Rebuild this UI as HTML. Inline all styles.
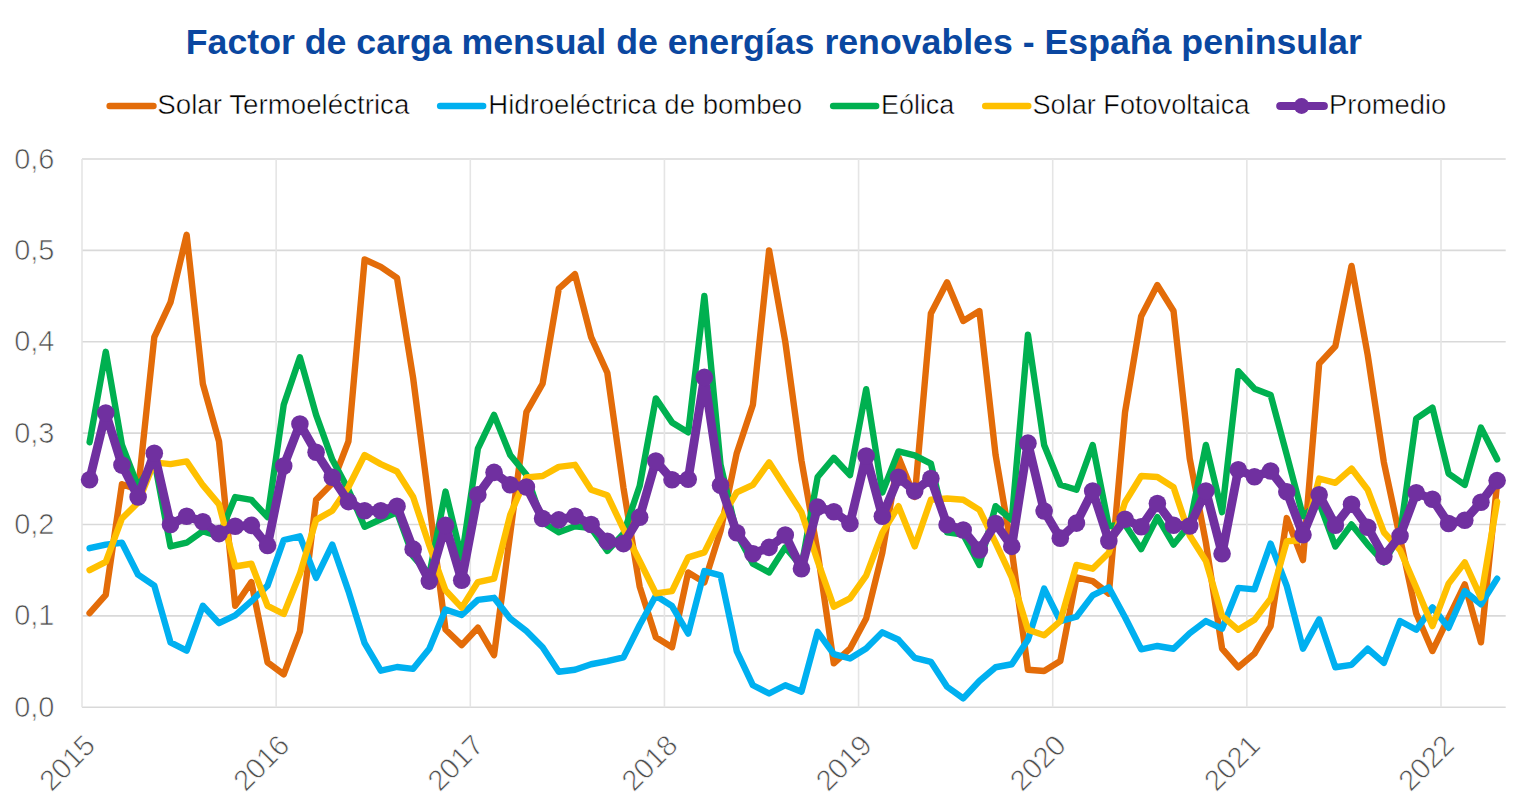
<!DOCTYPE html>
<html><head><meta charset="utf-8"><style>
html,body{margin:0;padding:0;background:#fff;width:1536px;height:801px;overflow:hidden}
svg{display:block;font-family:"Liberation Sans",sans-serif}
</style></head><body>
<svg width="1536" height="801" viewBox="0 0 1536 801">
<rect width="1536" height="801" fill="#fff"/>
<line x1="82.00" y1="707.20" x2="1505.71" y2="707.20" stroke="#d9d9d9" stroke-width="1.6"/>
<line x1="82.00" y1="615.83" x2="1505.71" y2="615.83" stroke="#d9d9d9" stroke-width="1.6"/>
<line x1="82.00" y1="524.47" x2="1505.71" y2="524.47" stroke="#d9d9d9" stroke-width="1.6"/>
<line x1="82.00" y1="433.10" x2="1505.71" y2="433.10" stroke="#d9d9d9" stroke-width="1.6"/>
<line x1="82.00" y1="341.73" x2="1505.71" y2="341.73" stroke="#d9d9d9" stroke-width="1.6"/>
<line x1="82.00" y1="250.37" x2="1505.71" y2="250.37" stroke="#d9d9d9" stroke-width="1.6"/>
<line x1="82.00" y1="159.00" x2="1505.71" y2="159.00" stroke="#d9d9d9" stroke-width="1.6"/>
<line x1="82.00" y1="159.00" x2="82.00" y2="707.20" stroke="#e5e5e5" stroke-width="1.6"/>
<line x1="276.14" y1="159.00" x2="276.14" y2="707.20" stroke="#e5e5e5" stroke-width="1.6"/>
<line x1="470.29" y1="159.00" x2="470.29" y2="707.20" stroke="#e5e5e5" stroke-width="1.6"/>
<line x1="664.43" y1="159.00" x2="664.43" y2="707.20" stroke="#e5e5e5" stroke-width="1.6"/>
<line x1="858.57" y1="159.00" x2="858.57" y2="707.20" stroke="#e5e5e5" stroke-width="1.6"/>
<line x1="1052.71" y1="159.00" x2="1052.71" y2="707.20" stroke="#e5e5e5" stroke-width="1.6"/>
<line x1="1246.86" y1="159.00" x2="1246.86" y2="707.20" stroke="#e5e5e5" stroke-width="1.6"/>
<line x1="1441.00" y1="159.00" x2="1441.00" y2="707.20" stroke="#e5e5e5" stroke-width="1.6"/>
<text x="54.5" y="716.80" text-anchor="end" font-size="29" fill="#4f4f4f" stroke="#fff" stroke-width="0.7">0,0</text>
<text x="54.5" y="625.43" text-anchor="end" font-size="29" fill="#4f4f4f" stroke="#fff" stroke-width="0.7">0,1</text>
<text x="54.5" y="534.07" text-anchor="end" font-size="29" fill="#4f4f4f" stroke="#fff" stroke-width="0.7">0,2</text>
<text x="54.5" y="442.70" text-anchor="end" font-size="29" fill="#4f4f4f" stroke="#fff" stroke-width="0.7">0,3</text>
<text x="54.5" y="351.33" text-anchor="end" font-size="29" fill="#4f4f4f" stroke="#fff" stroke-width="0.7">0,4</text>
<text x="54.5" y="259.97" text-anchor="end" font-size="29" fill="#4f4f4f" stroke="#fff" stroke-width="0.7">0,5</text>
<text x="54.5" y="168.60" text-anchor="end" font-size="29" fill="#4f4f4f" stroke="#fff" stroke-width="0.7">0,6</text>
<text transform="translate(97.00,747.00) rotate(-45)" text-anchor="end" font-size="29" fill="#4f4f4f" stroke="#fff" stroke-width="0.7">2015</text>
<text transform="translate(291.14,747.00) rotate(-45)" text-anchor="end" font-size="29" fill="#4f4f4f" stroke="#fff" stroke-width="0.7">2016</text>
<text transform="translate(485.29,747.00) rotate(-45)" text-anchor="end" font-size="29" fill="#4f4f4f" stroke="#fff" stroke-width="0.7">2017</text>
<text transform="translate(679.43,747.00) rotate(-45)" text-anchor="end" font-size="29" fill="#4f4f4f" stroke="#fff" stroke-width="0.7">2018</text>
<text transform="translate(873.57,747.00) rotate(-45)" text-anchor="end" font-size="29" fill="#4f4f4f" stroke="#fff" stroke-width="0.7">2019</text>
<text transform="translate(1067.71,747.00) rotate(-45)" text-anchor="end" font-size="29" fill="#4f4f4f" stroke="#fff" stroke-width="0.7">2020</text>
<text transform="translate(1261.86,747.00) rotate(-45)" text-anchor="end" font-size="29" fill="#4f4f4f" stroke="#fff" stroke-width="0.7">2021</text>
<text transform="translate(1456.00,747.00) rotate(-45)" text-anchor="end" font-size="29" fill="#4f4f4f" stroke="#fff" stroke-width="0.7">2022</text>
<polyline fill="none" stroke="#e36c09" stroke-width="6.4" stroke-linejoin="round" stroke-linecap="round" points="89.59,613.09 105.77,594.82 121.95,484.27 138.12,489.75 154.30,337.16 170.48,302.45 186.66,234.83 202.84,383.76 219.02,441.32 235.20,605.78 251.37,582.03 267.55,662.43 283.73,674.31 299.91,631.37 316.09,499.80 332.27,483.35 348.45,441.32 364.62,259.50 380.80,266.81 396.98,277.78 413.16,378.28 429.34,504.37 445.52,629.54 461.70,645.07 477.87,627.71 494.05,655.12 510.23,533.60 526.41,412.09 542.59,383.76 558.77,288.74 574.95,274.12 591.12,337.16 607.30,372.80 623.48,487.92 639.66,586.60 655.84,637.30 672.02,647.26 688.20,572.43 704.37,582.39 720.55,530.86 736.73,453.20 752.91,404.78 769.09,250.37 785.27,341.73 801.45,460.51 817.62,551.88 833.80,663.34 849.98,648.73 866.16,618.57 882.34,552.79 898.52,457.31 914.70,497.06 930.87,313.41 947.05,282.34 963.23,320.99 979.41,311.03 995.59,455.03 1011.77,550.05 1027.95,669.74 1044.12,671.02 1060.30,661.06 1076.48,577.46 1092.66,581.11 1108.84,593.63 1125.02,412.36 1141.20,316.15 1157.38,285.09 1173.55,311.03 1189.73,458.68 1205.91,542.74 1222.09,648.54 1238.27,667.27 1254.45,653.57 1270.62,626.07 1286.80,518.07 1302.98,560.10 1319.16,363.66 1335.34,346.30 1351.52,265.90 1367.70,354.98 1383.87,462.34 1400.05,538.17 1416.23,613.55 1432.41,651.01 1448.59,617.66 1464.77,584.40 1480.95,642.33 1497.12,483.35"/>
<polyline fill="none" stroke="#00b0f0" stroke-width="6.4" stroke-linejoin="round" stroke-linecap="round" points="89.59,548.22 105.77,544.57 121.95,542.74 138.12,574.72 154.30,585.68 170.48,642.33 186.66,650.55 202.84,605.78 219.02,623.14 235.20,615.38 251.37,601.21 267.55,585.68 283.73,540.00 299.91,536.34 316.09,577.92 332.27,544.57 348.45,591.16 364.62,643.24 380.80,670.65 396.98,667.00 413.16,668.83 429.34,648.73 445.52,609.44 461.70,614.92 477.87,599.84 494.05,597.83 510.23,618.57 526.41,631.09 542.59,647.26 558.77,671.75 574.95,669.74 591.12,664.26 607.30,661.06 623.48,657.31 639.66,624.97 655.84,595.73 672.02,606.06 688.20,633.56 704.37,571.06 720.55,575.36 736.73,651.01 752.91,685.27 769.09,693.50 785.27,685.27 801.45,691.67 817.62,631.82 833.80,654.21 849.98,658.50 866.16,648.54 882.34,632.28 898.52,639.77 914.70,657.86 930.87,661.79 947.05,686.73 963.23,698.43 979.41,680.98 995.59,667.27 1011.77,664.26 1027.95,639.77 1044.12,588.61 1060.30,621.04 1076.48,616.75 1092.66,595.37 1108.84,587.42 1125.02,617.30 1141.20,649.27 1157.38,645.98 1173.55,648.73 1189.73,633.19 1205.91,621.04 1222.09,628.62 1238.27,587.88 1254.45,589.34 1270.62,543.65 1286.80,586.14 1302.98,648.73 1319.16,619.31 1335.34,667.27 1351.52,664.81 1367.70,648.73 1383.87,662.80 1400.05,621.04 1416.23,629.81 1432.41,607.34 1448.59,627.80 1464.77,591.16 1480.95,604.32 1497.12,578.65"/>
<polyline fill="none" stroke="#00b050" stroke-width="6.4" stroke-linejoin="round" stroke-linecap="round" points="89.59,442.24 105.77,351.78 121.95,444.98 138.12,486.55 154.30,460.51 170.48,546.39 186.66,542.74 202.84,531.23 219.02,536.34 235.20,497.06 251.37,499.80 267.55,517.16 283.73,404.78 299.91,357.27 316.09,414.83 332.27,459.60 348.45,489.75 364.62,526.75 380.80,519.26 396.98,512.22 413.16,556.45 429.34,574.72 445.52,491.57 461.70,558.27 477.87,448.63 494.05,414.83 510.23,455.03 526.41,474.76 542.59,522.18 558.77,532.23 574.95,526.29 591.12,528.12 607.30,550.96 623.48,533.60 639.66,486.09 655.84,398.38 672.02,422.41 688.20,432.37 704.37,296.05 720.55,464.80 736.73,533.60 752.91,563.75 769.09,572.43 785.27,547.31 801.45,566.50 817.62,476.96 833.80,457.77 849.98,475.13 866.16,389.24 882.34,492.49 898.52,451.37 914.70,455.30 930.87,463.53 947.05,532.23 963.23,534.52 979.41,564.94 995.59,506.19 1011.77,519.90 1027.95,334.79 1044.12,444.98 1060.30,484.81 1076.48,489.75 1092.66,444.98 1108.84,526.29 1125.02,524.47 1141.20,549.14 1157.38,517.16 1173.55,544.57 1189.73,524.47 1205.91,444.98 1222.09,512.22 1238.27,371.15 1254.45,388.70 1270.62,394.91 1286.80,455.03 1302.98,516.24 1319.16,502.54 1335.34,546.39 1351.52,524.47 1367.70,544.57 1383.87,562.38 1400.05,534.52 1416.23,418.66 1432.41,407.52 1448.59,473.58 1464.77,484.81 1480.95,427.62 1497.12,459.32"/>
<polyline fill="none" stroke="#ffc000" stroke-width="6.4" stroke-linejoin="round" stroke-linecap="round" points="89.59,570.15 105.77,561.93 121.95,518.44 138.12,502.54 154.30,462.34 170.48,464.16 186.66,461.42 202.84,485.18 219.02,504.37 235.20,566.50 251.37,563.75 267.55,605.78 283.73,614.01 299.91,573.80 316.09,519.90 332.27,510.76 348.45,487.01 364.62,455.03 380.80,464.16 396.98,471.47 413.16,497.06 429.34,545.48 445.52,590.25 461.70,607.61 477.87,582.03 494.05,578.65 510.23,514.69 526.41,477.32 542.59,476.04 558.77,466.91 574.95,464.80 591.12,489.75 607.30,495.23 623.48,529.04 639.66,561.01 655.84,593.45 672.02,591.16 688.20,557.36 704.37,552.42 720.55,519.90 736.73,492.31 752.91,484.81 769.09,462.34 785.27,487.28 801.45,512.22 817.62,561.01 833.80,606.70 849.98,598.47 866.16,575.63 882.34,532.69 898.52,506.19 914.70,546.39 930.87,499.80 947.05,498.52 963.23,499.80 979.41,509.85 995.59,542.74 1011.77,577.46 1027.95,629.81 1044.12,635.29 1060.30,621.04 1076.48,564.94 1092.66,568.69 1108.84,552.79 1125.02,502.26 1141.20,476.04 1157.38,476.96 1173.55,487.28 1189.73,535.43 1205.91,561.01 1222.09,615.83 1238.27,629.81 1254.45,619.85 1270.62,598.57 1286.80,541.19 1302.98,540.00 1319.16,478.51 1335.34,482.80 1351.52,468.55 1367.70,489.75 1383.87,532.23 1400.05,550.05 1416.23,587.51 1432.41,626.07 1448.59,583.67 1464.77,562.38 1480.95,597.56 1497.12,501.72"/>
<polyline fill="none" stroke="#7030a0" stroke-width="8.8" stroke-linejoin="round" stroke-linecap="round" points="89.59,479.70 105.77,413.00 121.95,465.08 138.12,497.06 154.30,453.20 170.48,524.47 186.66,516.24 202.84,521.73 219.02,533.60 235.20,526.29 251.37,525.38 267.55,545.48 283.73,465.99 299.91,423.96 316.09,452.29 332.27,477.32 348.45,501.62 364.62,510.76 380.80,510.76 396.98,506.19 413.16,549.14 429.34,581.11 445.52,525.38 461.70,580.20 477.87,494.77 494.05,472.39 510.23,484.81 526.41,487.01 542.59,518.44 558.77,519.90 574.95,516.24 591.12,524.47 607.30,541.19 623.48,543.65 639.66,517.16 655.84,461.06 672.02,479.70 688.20,479.24 704.37,377.37 720.55,485.18 736.73,532.69 752.91,553.70 769.09,547.40 785.27,534.97 801.45,568.69 817.62,507.11 833.80,511.68 849.98,523.55 866.16,455.94 882.34,516.24 898.52,477.32 914.70,491.03 930.87,478.51 947.05,524.74 963.23,529.95 979.41,550.05 995.59,523.55 1011.77,546.39 1027.95,443.15 1044.12,510.94 1060.30,538.17 1076.48,523.10 1092.66,491.03 1108.84,540.91 1125.02,519.26 1141.20,526.75 1157.38,503.45 1173.55,525.20 1189.73,525.93 1205.91,491.03 1222.09,553.70 1238.27,469.83 1254.45,476.77 1270.62,471.02 1286.80,491.76 1302.98,534.70 1319.16,494.77 1335.34,525.20 1351.52,504.27 1367.70,527.21 1383.87,556.45 1400.05,535.98 1416.23,492.76 1432.41,499.25 1448.59,523.46 1464.77,520.26 1480.95,502.26 1497.12,480.61"/>
<circle cx="89.59" cy="479.70" r="8.8" fill="#7030a0"/>
<circle cx="105.77" cy="413.00" r="8.8" fill="#7030a0"/>
<circle cx="121.95" cy="465.08" r="8.8" fill="#7030a0"/>
<circle cx="138.12" cy="497.06" r="8.8" fill="#7030a0"/>
<circle cx="154.30" cy="453.20" r="8.8" fill="#7030a0"/>
<circle cx="170.48" cy="524.47" r="8.8" fill="#7030a0"/>
<circle cx="186.66" cy="516.24" r="8.8" fill="#7030a0"/>
<circle cx="202.84" cy="521.73" r="8.8" fill="#7030a0"/>
<circle cx="219.02" cy="533.60" r="8.8" fill="#7030a0"/>
<circle cx="235.20" cy="526.29" r="8.8" fill="#7030a0"/>
<circle cx="251.37" cy="525.38" r="8.8" fill="#7030a0"/>
<circle cx="267.55" cy="545.48" r="8.8" fill="#7030a0"/>
<circle cx="283.73" cy="465.99" r="8.8" fill="#7030a0"/>
<circle cx="299.91" cy="423.96" r="8.8" fill="#7030a0"/>
<circle cx="316.09" cy="452.29" r="8.8" fill="#7030a0"/>
<circle cx="332.27" cy="477.32" r="8.8" fill="#7030a0"/>
<circle cx="348.45" cy="501.62" r="8.8" fill="#7030a0"/>
<circle cx="364.62" cy="510.76" r="8.8" fill="#7030a0"/>
<circle cx="380.80" cy="510.76" r="8.8" fill="#7030a0"/>
<circle cx="396.98" cy="506.19" r="8.8" fill="#7030a0"/>
<circle cx="413.16" cy="549.14" r="8.8" fill="#7030a0"/>
<circle cx="429.34" cy="581.11" r="8.8" fill="#7030a0"/>
<circle cx="445.52" cy="525.38" r="8.8" fill="#7030a0"/>
<circle cx="461.70" cy="580.20" r="8.8" fill="#7030a0"/>
<circle cx="477.87" cy="494.77" r="8.8" fill="#7030a0"/>
<circle cx="494.05" cy="472.39" r="8.8" fill="#7030a0"/>
<circle cx="510.23" cy="484.81" r="8.8" fill="#7030a0"/>
<circle cx="526.41" cy="487.01" r="8.8" fill="#7030a0"/>
<circle cx="542.59" cy="518.44" r="8.8" fill="#7030a0"/>
<circle cx="558.77" cy="519.90" r="8.8" fill="#7030a0"/>
<circle cx="574.95" cy="516.24" r="8.8" fill="#7030a0"/>
<circle cx="591.12" cy="524.47" r="8.8" fill="#7030a0"/>
<circle cx="607.30" cy="541.19" r="8.8" fill="#7030a0"/>
<circle cx="623.48" cy="543.65" r="8.8" fill="#7030a0"/>
<circle cx="639.66" cy="517.16" r="8.8" fill="#7030a0"/>
<circle cx="655.84" cy="461.06" r="8.8" fill="#7030a0"/>
<circle cx="672.02" cy="479.70" r="8.8" fill="#7030a0"/>
<circle cx="688.20" cy="479.24" r="8.8" fill="#7030a0"/>
<circle cx="704.37" cy="377.37" r="8.8" fill="#7030a0"/>
<circle cx="720.55" cy="485.18" r="8.8" fill="#7030a0"/>
<circle cx="736.73" cy="532.69" r="8.8" fill="#7030a0"/>
<circle cx="752.91" cy="553.70" r="8.8" fill="#7030a0"/>
<circle cx="769.09" cy="547.40" r="8.8" fill="#7030a0"/>
<circle cx="785.27" cy="534.97" r="8.8" fill="#7030a0"/>
<circle cx="801.45" cy="568.69" r="8.8" fill="#7030a0"/>
<circle cx="817.62" cy="507.11" r="8.8" fill="#7030a0"/>
<circle cx="833.80" cy="511.68" r="8.8" fill="#7030a0"/>
<circle cx="849.98" cy="523.55" r="8.8" fill="#7030a0"/>
<circle cx="866.16" cy="455.94" r="8.8" fill="#7030a0"/>
<circle cx="882.34" cy="516.24" r="8.8" fill="#7030a0"/>
<circle cx="898.52" cy="477.32" r="8.8" fill="#7030a0"/>
<circle cx="914.70" cy="491.03" r="8.8" fill="#7030a0"/>
<circle cx="930.87" cy="478.51" r="8.8" fill="#7030a0"/>
<circle cx="947.05" cy="524.74" r="8.8" fill="#7030a0"/>
<circle cx="963.23" cy="529.95" r="8.8" fill="#7030a0"/>
<circle cx="979.41" cy="550.05" r="8.8" fill="#7030a0"/>
<circle cx="995.59" cy="523.55" r="8.8" fill="#7030a0"/>
<circle cx="1011.77" cy="546.39" r="8.8" fill="#7030a0"/>
<circle cx="1027.95" cy="443.15" r="8.8" fill="#7030a0"/>
<circle cx="1044.12" cy="510.94" r="8.8" fill="#7030a0"/>
<circle cx="1060.30" cy="538.17" r="8.8" fill="#7030a0"/>
<circle cx="1076.48" cy="523.10" r="8.8" fill="#7030a0"/>
<circle cx="1092.66" cy="491.03" r="8.8" fill="#7030a0"/>
<circle cx="1108.84" cy="540.91" r="8.8" fill="#7030a0"/>
<circle cx="1125.02" cy="519.26" r="8.8" fill="#7030a0"/>
<circle cx="1141.20" cy="526.75" r="8.8" fill="#7030a0"/>
<circle cx="1157.38" cy="503.45" r="8.8" fill="#7030a0"/>
<circle cx="1173.55" cy="525.20" r="8.8" fill="#7030a0"/>
<circle cx="1189.73" cy="525.93" r="8.8" fill="#7030a0"/>
<circle cx="1205.91" cy="491.03" r="8.8" fill="#7030a0"/>
<circle cx="1222.09" cy="553.70" r="8.8" fill="#7030a0"/>
<circle cx="1238.27" cy="469.83" r="8.8" fill="#7030a0"/>
<circle cx="1254.45" cy="476.77" r="8.8" fill="#7030a0"/>
<circle cx="1270.62" cy="471.02" r="8.8" fill="#7030a0"/>
<circle cx="1286.80" cy="491.76" r="8.8" fill="#7030a0"/>
<circle cx="1302.98" cy="534.70" r="8.8" fill="#7030a0"/>
<circle cx="1319.16" cy="494.77" r="8.8" fill="#7030a0"/>
<circle cx="1335.34" cy="525.20" r="8.8" fill="#7030a0"/>
<circle cx="1351.52" cy="504.27" r="8.8" fill="#7030a0"/>
<circle cx="1367.70" cy="527.21" r="8.8" fill="#7030a0"/>
<circle cx="1383.87" cy="556.45" r="8.8" fill="#7030a0"/>
<circle cx="1400.05" cy="535.98" r="8.8" fill="#7030a0"/>
<circle cx="1416.23" cy="492.76" r="8.8" fill="#7030a0"/>
<circle cx="1432.41" cy="499.25" r="8.8" fill="#7030a0"/>
<circle cx="1448.59" cy="523.46" r="8.8" fill="#7030a0"/>
<circle cx="1464.77" cy="520.26" r="8.8" fill="#7030a0"/>
<circle cx="1480.95" cy="502.26" r="8.8" fill="#7030a0"/>
<circle cx="1497.12" cy="480.61" r="8.8" fill="#7030a0"/>
<text x="773.8" y="54.1" text-anchor="middle" font-size="35" font-weight="bold" fill="#0a47a0" textLength="1176" lengthAdjust="spacingAndGlyphs">Factor de carga mensual de energías renovables - España peninsular</text>
<line x1="109.65" y1="106.00" x2="153.45" y2="106.00" stroke="#e36c09" stroke-width="6.5" stroke-linecap="round"/>
<text x="157.30" y="113.5" font-size="27" fill="#000000" stroke="#fff" stroke-width="0.5" textLength="252.1" lengthAdjust="spacingAndGlyphs">Solar Termoeléctrica</text>
<line x1="440.15" y1="106.00" x2="483.15" y2="106.00" stroke="#00b0f0" stroke-width="6.5" stroke-linecap="round"/>
<text x="488.30" y="113.5" font-size="27" fill="#000000" stroke="#fff" stroke-width="0.5" textLength="313.9" lengthAdjust="spacingAndGlyphs">Hidroeléctrica de bombeo</text>
<line x1="833.15" y1="106.00" x2="876.15" y2="106.00" stroke="#00b050" stroke-width="6.5" stroke-linecap="round"/>
<text x="881.00" y="113.5" font-size="27" fill="#000000" stroke="#fff" stroke-width="0.5" textLength="73.3" lengthAdjust="spacingAndGlyphs">Eólica</text>
<line x1="985.25" y1="106.00" x2="1028.25" y2="106.00" stroke="#ffc000" stroke-width="6.5" stroke-linecap="round"/>
<text x="1032.50" y="113.5" font-size="27" fill="#000000" stroke="#fff" stroke-width="0.5" textLength="217.0" lengthAdjust="spacingAndGlyphs">Solar Fotovoltaica</text>
<line x1="1280.30" y1="106.00" x2="1323.80" y2="106.00" stroke="#7030a0" stroke-width="8.2" stroke-linecap="round"/>
<circle cx="1301.6" cy="106.00" r="7.9" fill="#7030a0"/>
<text x="1329.10" y="113.5" font-size="27" fill="#000000" stroke="#fff" stroke-width="0.5" textLength="117.1" lengthAdjust="spacingAndGlyphs">Promedio</text>
</svg>
</body></html>
